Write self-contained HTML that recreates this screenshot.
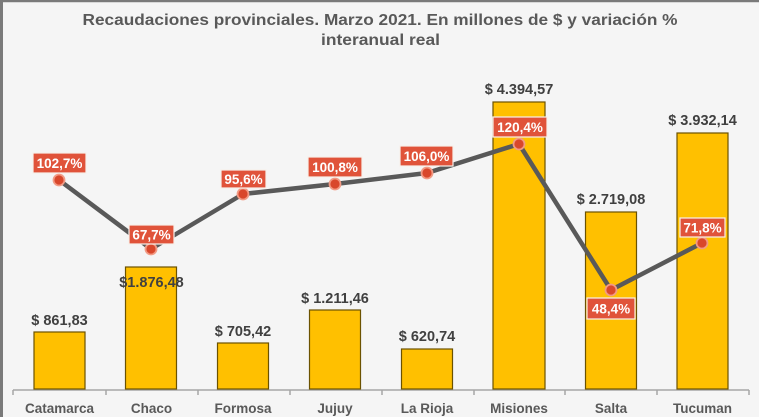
<!DOCTYPE html>
<html><head><meta charset="utf-8">
<style>
html,body{margin:0;padding:0;background:#f5f5f5;}
svg{display:block;}
text{font-family:"Liberation Sans",Arial,sans-serif;font-weight:bold;}
</style></head>
<body>
<svg width="759" height="417" viewBox="0 0 759 417" xmlns="http://www.w3.org/2000/svg">
<rect x="0" y="0" width="759" height="417" fill="#f5f5f5"/>
<rect x="0" y="0" width="759" height="2" fill="#7a7a7a"/>
<rect x="0" y="0" width="3" height="417" fill="#7a7a7a"/>
<rect x="3" y="2" width="756" height="1" fill="#d8d8d8"/>

<text x="380" y="25" font-size="16" fill="#595959" text-anchor="middle" textLength="595" lengthAdjust="spacingAndGlyphs">Recaudaciones provinciales. Marzo 2021. En millones de $ y variación %</text>
<text x="380.5" y="45" font-size="16" fill="#595959" text-anchor="middle" textLength="119" lengthAdjust="spacingAndGlyphs">interanual real</text>

<!-- axis -->
<g stroke="#a6a6a6" stroke-width="1.5" fill="none">
<line x1="13" y1="390" x2="749" y2="390"/>
<line x1="13" y1="390" x2="13" y2="395"/>
<line x1="106" y1="390" x2="106" y2="395"/>
<line x1="198" y1="390" x2="198" y2="395"/>
<line x1="290" y1="390" x2="290" y2="395"/>
<line x1="382" y1="390" x2="382" y2="395"/>
<line x1="474" y1="390" x2="474" y2="395"/>
<line x1="565" y1="390" x2="565" y2="395"/>
<line x1="657" y1="390" x2="657" y2="395"/>
<line x1="749" y1="390" x2="749" y2="395"/>
</g>

<!-- bars -->
<g fill="#ffc000" stroke="#6b5200" stroke-width="1.2">
<rect x="34" y="332" width="51" height="57"/>
<rect x="125.5" y="267" width="51" height="122"/>
<rect x="217.5" y="343" width="51" height="46"/>
<rect x="309.5" y="310" width="51" height="79"/>
<rect x="401.5" y="349" width="51" height="40"/>
<rect x="493" y="102" width="52" height="287"/>
<rect x="585.5" y="212" width="51" height="177"/>
<rect x="677" y="133" width="51" height="256"/>
</g>

<!-- value labels -->
<g font-size="14.5" fill="#404040" text-anchor="middle">
<text x="59.5" y="325">$ 861,83</text>
<text x="151.5" y="287">$1.876,48</text>
<text x="243" y="336">$ 705,42</text>
<text x="335" y="303">$ 1.211,46</text>
<text x="427" y="341">$ 620,74</text>
<text x="519" y="94">$ 4.394,57</text>
<text x="611" y="204">$ 2.719,08</text>
<text x="702.5" y="125">$ 3.932,14</text>
</g>

<!-- category labels -->
<g font-size="13.5" fill="#595959" text-anchor="middle">
<text x="59.5" y="413">Catamarca</text>
<text x="151.5" y="413">Chaco</text>
<text x="243" y="413">Formosa</text>
<text x="335" y="413">Jujuy</text>
<text x="427" y="413">La Rioja</text>
<text x="519" y="413">Misiones</text>
<text x="611" y="413">Salta</text>
<text x="702.5" y="413">Tucuman</text>
</g>

<!-- line -->
<polyline points="59,180 151,249 243,194 335,184 427,173 519,144 611,290 702,243" fill="none" stroke="#595959" stroke-width="4.5" stroke-linejoin="round"/>
<g fill="#d9472b" stroke="#f29a84" stroke-width="1.8">
<circle cx="59" cy="180" r="5.5"/>
<circle cx="151" cy="249" r="5.5"/>
<circle cx="243" cy="194" r="5.5"/>
<circle cx="335" cy="184" r="5.5"/>
<circle cx="427" cy="173" r="5.5"/>
<circle cx="519" cy="144" r="5.5"/>
<circle cx="611" cy="290" r="5.5"/>
<circle cx="702" cy="243" r="5.5"/>
</g>

<!-- percent labels -->
<g fill="#e0533a" stroke="#f7f0ea" stroke-width="1.2">
<rect x="33" y="153" width="53" height="20"/>
<rect x="129" y="225" width="45" height="19"/>
<rect x="221" y="170" width="45" height="18"/>
<rect x="308" y="157" width="54" height="20"/>
<rect x="400" y="146" width="53" height="20"/>
<rect x="493" y="117" width="54" height="20"/>
<rect x="587" y="298" width="48" height="21"/>
<rect x="680" y="218" width="45" height="19"/>
</g>
<g font-size="13.5" fill="#ffffff" text-anchor="middle">
<text x="59.5" y="168">102,7%</text>
<text x="151.5" y="239.5">67,7%</text>
<text x="243.5" y="184">95,6%</text>
<text x="335" y="172">100,8%</text>
<text x="426.5" y="161">106,0%</text>
<text x="520" y="132">120,4%</text>
<text x="611" y="313.5">48,4%</text>
<text x="702.5" y="232.5">71,8%</text>
</g>
</svg>
</body></html>
